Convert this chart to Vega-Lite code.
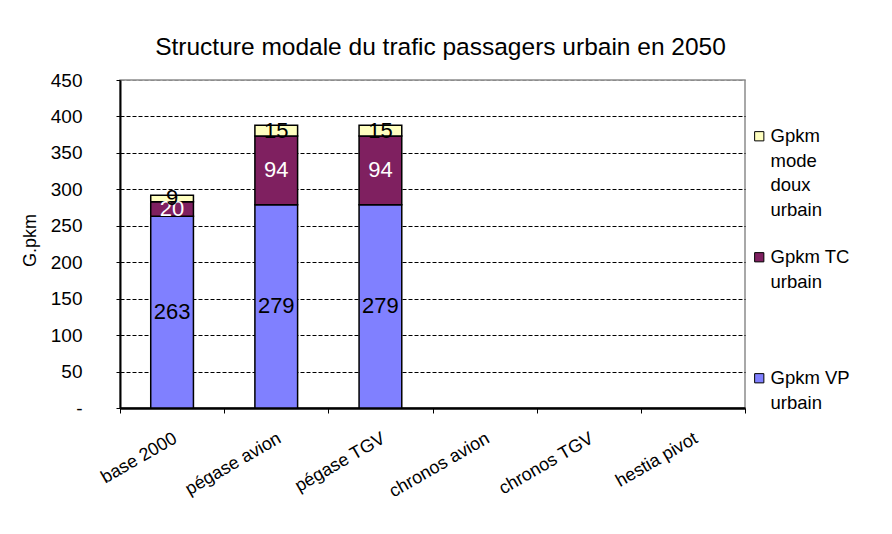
{
  "$schema": "https://vega.github.io/schema/vega-lite/v6.json",
  "autosize": "none",
  "width": 625,
  "height": 328,
  "padding": {"left": 120, "top": 80, "right": 147, "bottom": 126},
  "background": "white",
  "config": {"font": "Liberation Sans", "view": {"stroke": "#8c8c8c", "strokeWidth": 1.5}},
  "title": {"text": "Structure modale du trafic passagers urbain en 2050", "fontSize": 24.5, "fontWeight": "normal", "color": "black", "anchor": "middle", "offset": 11, "dx": 8},
  "data": {"values": [
    {"scenario": "base 2000", "serie": "Gpkm VP urbain", "rang": 1, "v": 263},
    {"scenario": "base 2000", "serie": "Gpkm TC urbain", "rang": 2, "v": 20},
    {"scenario": "base 2000", "serie": "Gpkm mode doux urbain", "rang": 3, "v": 9},
    {"scenario": "pégase avion", "serie": "Gpkm VP urbain", "rang": 1, "v": 279},
    {"scenario": "pégase avion", "serie": "Gpkm TC urbain", "rang": 2, "v": 94},
    {"scenario": "pégase avion", "serie": "Gpkm mode doux urbain", "rang": 3, "v": 15},
    {"scenario": "pégase TGV", "serie": "Gpkm VP urbain", "rang": 1, "v": 279},
    {"scenario": "pégase TGV", "serie": "Gpkm TC urbain", "rang": 2, "v": 94},
    {"scenario": "pégase TGV", "serie": "Gpkm mode doux urbain", "rang": 3, "v": 15}
  ]},
  "encoding": {
    "x": {"field": "scenario", "type": "nominal",
      "scale": {"domain": ["base 2000", "pégase avion", "pégase TGV", "chronos avion", "chronos TGV", "hestia pivot"], "paddingInner": 0, "paddingOuter": 0},
      "axis": {"title": null, "tickBand": "extent", "labelAngle": -30, "labelAlign": "right", "labelBaseline": "middle", "labelFontSize": 18, "labelColor": "black", "labelPadding": 24, "tickSize": 5, "tickColor": "black", "domainColor": "black", "domainWidth": 2.5, "labelOffset": 3}},
    "y": {"field": "v", "type": "quantitative", "stack": "zero",
      "scale": {"domain": [0, 450], "nice": false},
      "axis": {"title": "G.pkm", "titleFontSize": 18, "titleFontWeight": "normal", "titleColor": "black", "titleAngle": -90, "titleX": -90, "titleY": 160, "titleAlign": "center", "titleBaseline": "middle",
        "values": [0, 50, 100, 150, 200, 250, 300, 350, 400, 450], "labelExpr": "datum.value == 0 ? '-' : datum.label", "labelFontSize": 19, "labelColor": "black", "labelPadding": 34, "tickSize": 4, "tickColor": "black", "domainColor": "black", "domainWidth": 2,
        "grid": true, "gridDash": [4, 2], "gridColor": {"condition": {"test": "datum.value == 450 || datum.value == 0", "value": "#8c8c8c"}, "value": "black"},
        "encode": {"labels": {"update": {"dx": {"signal": "datum.value == 0 ? -10 : 0"}}}}}}
  },
  "layer": [
    {"mark": {"type": "bar", "width": {"band": 0.41}, "stroke": "black", "strokeWidth": 1.5},
     "encoding": {
       "color": {"field": "serie", "type": "nominal",
         "scale": {"domain": ["Gpkm mode doux urbain", "Gpkm TC urbain", "Gpkm VP urbain"], "range": ["#FFFFC0", "#7F2060", "#8080FF"]},
         "legend": {"title": null, "orient": "none", "legendX": 630, "legendY": 47, "padding": 0, "symbolType": "square", "symbolSize": 85, "symbolStrokeColor": "black", "symbolStrokeWidth": 1, "labelFontSize": 18.5, "labelColor": "black", "labelOffset": 2, "labelBaseline": "top", "rowPadding": 28, "labelLimit": 200,
           "labelExpr": "datum.label == 'Gpkm mode doux urbain' ? ['Gpkm', 'mode', 'doux', 'urbain'] : datum.label == 'Gpkm TC urbain' ? ['Gpkm TC', 'urbain', ' ', ' '] : ['Gpkm VP', 'urbain']",
           "encode": {"labels": {"update": {"lineHeight": {"value": 24.5}, "dy": {"value": -9}}}}}},
       "order": {"field": "rang"}}},
    {"mark": {"type": "text", "fontSize": 22, "baseline": "middle"},
     "encoding": {
       "y": {"field": "v", "type": "quantitative", "stack": "zero", "bandPosition": 0.5},
       "detail": {"field": "serie"},
       "order": {"field": "rang"},
       "text": {"field": "v", "type": "quantitative"},
       "color": {"condition": {"test": "datum.serie == 'Gpkm TC urbain'", "value": "white"}, "value": "black"}}}
  ]
}
